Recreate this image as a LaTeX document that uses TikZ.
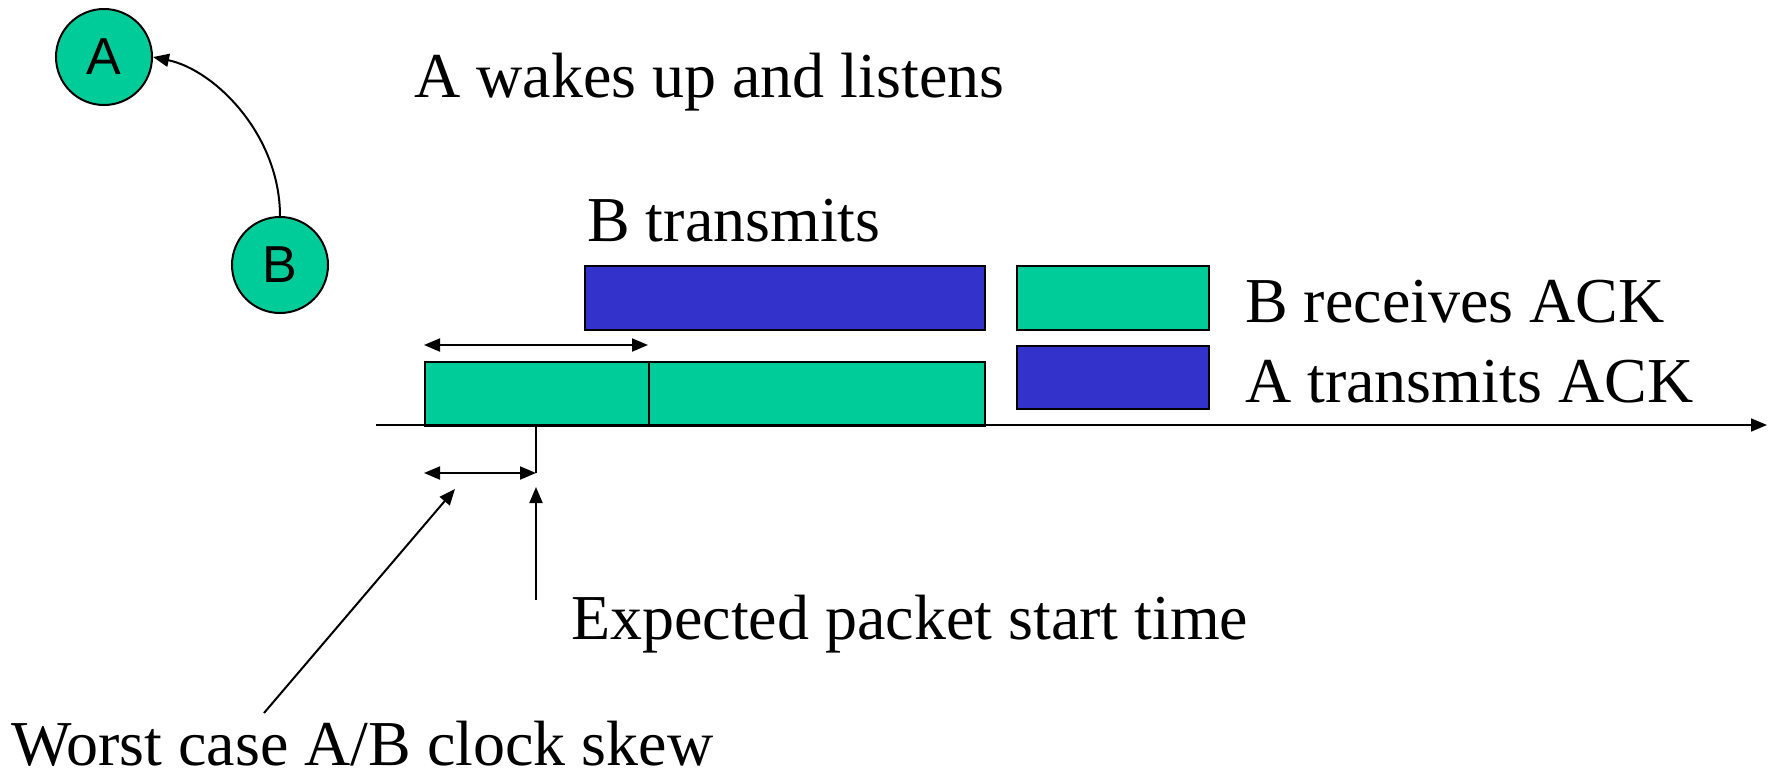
\documentclass[tikz,border=0pt]{standalone}
\usepackage{fontspec}
\setmainfont{Liberation Serif}
\newfontfamily\stationfont{Liberation Sans}
\usetikzlibrary{arrows.meta}
\definecolor{pktgreen}{RGB}{0,204,153}
\definecolor{pktblue}{RGB}{51,51,204}
\begin{document}
\begin{tikzpicture}[x=1pt,y=-1pt,
  pkttip/.tip={Triangle[length=16pt,width=13pt]},
  station/.style={circle,draw,line width=2pt,fill=pktgreen,minimum size=96pt,inner sep=0pt,
    font=\stationfont\fontsize{52}{56}\selectfont},
  packet/.style={draw,line width=2pt,inner sep=0pt,anchor=north west},
  caption/.style={font=\fontsize{64}{70}\selectfont,anchor=base west,inner sep=0pt},
  conn/.style={line width=2pt,-{pkttip}},
  span/.style={line width=2pt,{pkttip}-{pkttip}}]
\useasboundingbox (0,0) rectangle (1774,772);

% stations
\node[station] (A) at (104,57) {A};
\node[station] (B) at (280,265) {B};
\draw[conn] (B.north) .. controls (280,135) and (215,70) .. (A.east);

% captions
\node[caption] (wake) at (414,97) {A wakes up and listens};
\node[caption] (btxlbl) at (587,241) {B transmits};
\node[caption] (rxack) at (1245,322) {B receives ACK};
\node[caption] (txack) at (1245,402) {A transmits ACK};
\node[caption] (expect) at (571,639) {Expected packet start time};
\node[caption,text depth=0pt] (skew) at (11,765) {Worst case A/B clock skew};

% packets
\node[packet,fill=pktblue,minimum width=400pt,minimum height=64pt] (btx) at (584,265) {};
\node[packet,fill=pktgreen,minimum width=192pt,minimum height=64pt] (ackrx) at (1016,265) {};
\node[packet,fill=pktblue,minimum width=192pt,minimum height=63pt] (acktx) at (1016,345) {};
\node[packet,fill=pktgreen,minimum width=224pt,minimum height=64pt] (listen) at (424,361) {};
\node[packet,fill=pktgreen,minimum width=336pt,minimum height=64pt] (rx) at (648,361) {};

% time axis
\coordinate (t0) at (376,425);
\coordinate (t1) at (1767,425);
\draw[conn,line width=1.6pt] (t0) -- (t1);

% listen window span
\coordinate (winL) at (424,345);
\coordinate (winR) at (648,345);
\draw[span] (winL) -- (winR);

% expected start and skew span
\coordinate (expTop) at (536,425);
\coordinate (expBot) at (536,473);
\coordinate (skewL) at (424,473);
\draw[line width=2pt] (expTop) -- (expBot);
\draw[span] (skewL) -- (expBot);

% pointers from the captions
\coordinate (expTail) at (536,600);
\coordinate (expHead) at (536,487);
\draw[conn] (expTail) -- (expHead);
\coordinate (skewTail) at (264,713);
\coordinate (skewHead) at (455,489);
\draw[conn] (skewTail) -- (skewHead);
\end{tikzpicture}
\end{document}
